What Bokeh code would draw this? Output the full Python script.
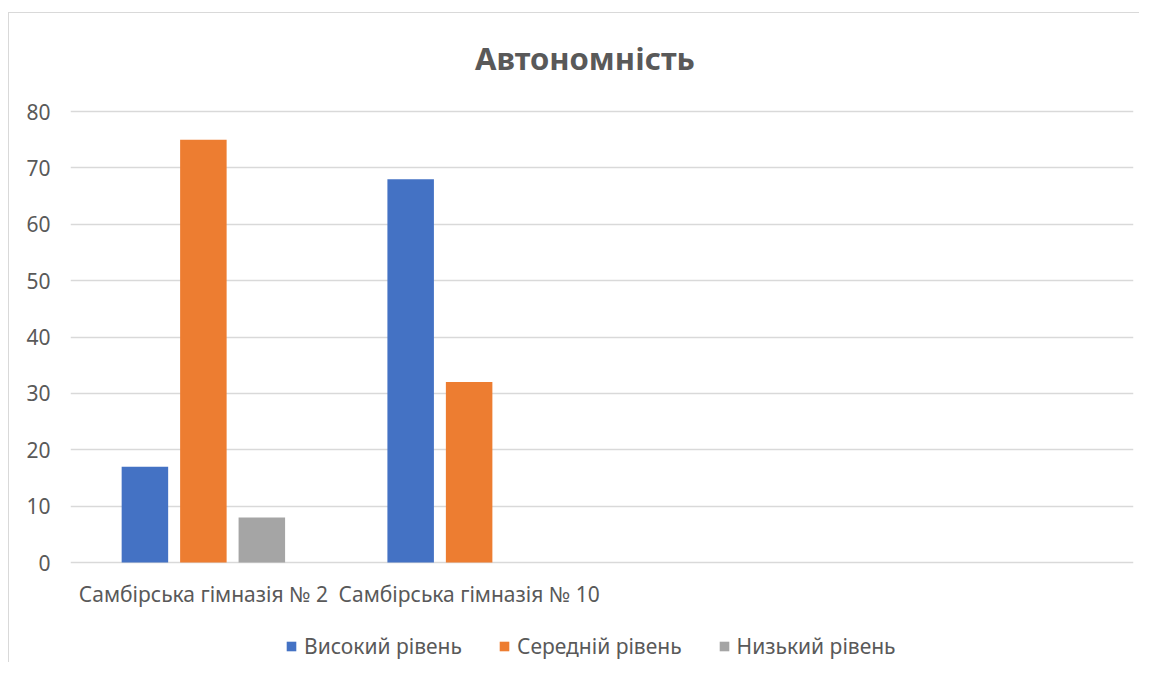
from bokeh.plotting import figure
from bokeh.models import Range1d, FixedTicker, Legend, LegendItem, ColumnDataSource, Label
from bokeh.core.properties import value
from bokeh.embed import file_html
from bokeh.resources import INLINE

title = "Автономність"
categories = ["Самбірська гімназія № 2", "Самбірська гімназія № 10", "", ""]
series_names = ["Високий рівень", "Середній рівень", "Низький рівень"]
high = [17, 68, 0, 0]
medium = [75, 32, 0, 0]
low = [8, 0, 0, 0]
y_ticks = [0, 10, 20, 30, 40, 50, 60, 70, 80]

colors = ["#4472C4", "#ED7D31", "#A5A5A5"]
offsets = [-0.22, 0.0, 0.22]
FONT = "Noto Sans"
TXT = "#595959"

# frame covers the whole chart area; value axis 0..80 spans 451 px in the middle
PLOT_H = 451
EXTRA_TOP = 98
EXTRA_BOTTOM = 98
y_max = max(y_ticks)
y_start = -y_max * EXTRA_BOTTOM / PLOT_H
y_end = y_max + y_max * EXTRA_TOP / PLOT_H

p = figure(width=1131, height=650, output_backend="svg", toolbar_location=None,
           x_range=Range1d(0, len(categories)), y_range=Range1d(y_start, y_end),
           min_border_left=61, min_border_right=7, min_border_top=0, min_border_bottom=3)
p.styles = {"border-left": "1px solid #d9d9d9", "border-top": "1px solid #d9d9d9",
            "margin-top": "12px", "margin-left": "8px"}

items = []
for name, vals, col, off in zip(series_names, [high, medium, low], colors, offsets):
    xs = [i + 0.5 + off for i in range(len(categories))]
    src = ColumnDataSource(dict(x=xs, top=vals))
    r = p.vbar(x="x", top="top", bottom=0, width=0.175, source=src, fill_color=col, line_color=None)
    items.append(LegendItem(label=name, renderers=[r]))

# category labels under the zero line
cat_src = ColumnDataSource(dict(x=[i + 0.5 for i in range(len(categories))],
                                y=[0] * len(categories), text=categories))
p.text(x="x", y="y", text="text", source=cat_src, y_offset=17,
       text_font=value(FONT), text_font_size="21px", text_color=TXT,
       text_align="center", text_baseline="top")

# chart title
p.add_layout(Label(x=len(categories) / 2, y=y_max, x_offset=-17, y_offset=54, text=title,
                   text_font=FONT, text_font_size="31px", text_font_style="bold",
                   text_color=TXT, text_align="center", text_baseline="middle"))

p.outline_line_color = None
p.xgrid.grid_line_color = None
p.ygrid.grid_line_color = "#d9d9d9"
p.ygrid.grid_line_width = 1.5
p.ygrid.ticker = FixedTicker(ticks=y_ticks)

p.yaxis.ticker = FixedTicker(ticks=y_ticks)
p.yaxis.axis_line_color = None
p.yaxis.major_tick_line_color = None
p.yaxis.minor_tick_line_color = None
p.yaxis.major_label_text_font = FONT
p.yaxis.major_label_text_font_size = "21px"
p.yaxis.major_label_text_color = TXT
p.yaxis.major_label_standoff = 14

p.xaxis.visible = False

legend = Legend(items=items, orientation="horizontal", location=(215, 0),
                label_text_font=FONT, label_text_font_size="21px", label_text_color=TXT,
                glyph_width=12, glyph_height=12, label_standoff=7, spacing=36,
                padding=0, margin=0, border_line_color=None, background_fill_alpha=0)
p.add_layout(legend, "center")

open("out.html", "w").write(file_html(p, INLINE))
